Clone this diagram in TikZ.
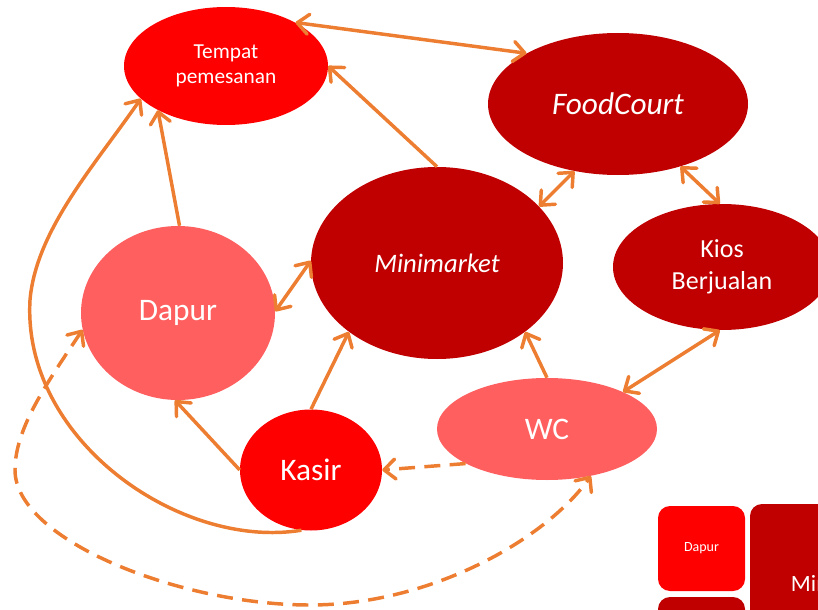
\documentclass[tikz,border=0pt]{standalone}
\usepackage{fontspec}
\setmainfont{Carlito}
\usepackage{tikz}
\usetikzlibrary{positioning}
\usetikzlibrary{shapes.geometric,arrows.meta}

\definecolor{oranye}{HTML}{ED7D31}
\definecolor{merah}{HTML}{FF0000}
\definecolor{merahtua}{HTML}{C00000}
\definecolor{merahmuda}{HTML}{FF5F5F}

\tikzset{
	ujung/.tip={Straight Barb[length=8.5pt,width=15pt,round]},
	ruang/.style={ellipse, inner sep=0pt, text=white},
	kotak/.style={rectangle, rounded corners=9pt, inner sep=0pt, text=white},
	panah/.style={draw=oranye, line width=2.6pt, -ujung},
	panahdua/.style={draw=oranye, line width=2.6pt, ujung-ujung},
	putus/.style={dash pattern=on 12pt off 7pt},
}

\begin{document}
\begin{tikzpicture}[x=0.75pt, y=-0.75pt]

	\useasboundingbox (0,0) rectangle (818,610);
	\clip (0,0) rectangle (818,610);

	% the rooms, placed at fixed coordinates
	\node[ruang, fill=merah, minimum width=153pt, minimum height=88.5pt,
		align=center, font=\fontsize{16}{19}\selectfont] (Tempat) at (226,66) {Tempat\\pemesanan};
	\node[ruang, fill=merahtua, minimum width=195pt, minimum height=106.5pt,
		font=\fontsize{23.5}{28}\selectfont\itshape] (Food) at (618,104) {FoodCourt};
	\node[ruang, fill=merahtua, minimum width=189pt, minimum height=144pt,
		font=\fontsize{20}{24}\selectfont\itshape] (Mini) at (437,263) {Minimarket};
	\node[ruang, fill=merahtua, minimum width=163.5pt, minimum height=94.5pt,
		align=center, font=\fontsize{19.5}{24}\selectfont] (Kios) at (722,267) {Kios\\Berjualan};
	\node[ruang, fill=merahmuda, minimum width=145.5pt, minimum height=130.5pt,
		font=\fontsize{23.5}{28}\selectfont] (Dapur) at (178,313) {\raisebox{-2pt}{Dapur}};
	\node[ruang, fill=merah, minimum width=106.5pt, minimum height=90.75pt,
		font=\fontsize{23.5}{28}\selectfont] (Kasir) at (311,470) {Kasir};
	\node[ruang, fill=merahmuda, minimum width=165pt, minimum height=76.5pt,
		font=\fontsize{23.5}{28}\selectfont] (WC) at (547,429) {WC};

	% tiles in the lower right corner
	\node[kotak, fill=merah, minimum width=65.25pt, minimum height=63.75pt,
		font=\fontsize{10.5}{12}\selectfont] (TDapur) at (701.5,548.5) {Dapur};
	\node[kotak, fill=merahtua, minimum width=144pt, minimum height=118.5pt,
		font=\fontsize{17.5}{21}\selectfont] (TMini) at (846,583) {Minimarket};
	\node[kotak, fill=merahtua, minimum width=65.25pt, minimum height=77.25pt] (TBawah) at (701.5,648.5) {};

	%%%%%%%%%%%%%%%%%%%%%%%%%%%%%%%%%%%%%%%%%%%%%%%%%%%%%%%%%

	% straight links
	\draw[panahdua] (Tempat.32) -- (Food.151);
	\draw[panah] (Mini.90) -- (Tempat.0);
	\draw[panah] (Dapur.89) -- (Tempat.213);
	\draw[panahdua] (Food.237) -- (Mini.29);
	\draw[panahdua] (Food.315) -- (Kios.92);
	\draw[panahdua] (Dapur.1) -- (Mini.179);
	\draw[panah] (Kasir.180) -- (Dapur.268);
	\draw[panah] (Kasir.90) -- (Mini.218);
	\draw[panah] (WC.90) -- (Mini.322);
	\draw[panahdua] (WC.26) -- (Kios.268);
	\draw[panah, putus] (WC.203) -- (Kasir.0);

	% long way round on the left
	\draw[panah] (Kasir.261) .. controls (180,550) and (22,440) .. (30,300)
		.. controls (36,230) and (95,165) .. (Tempat.201);

	% dashed loop under everything
	\draw[panahdua, putus] (Dapur.190) .. controls (44,387) and (15,430) .. (15,470)
		.. controls (15,540) and (180,605) .. (310,605)
		.. controls (430,605) and (545,540) .. (WC.313);

\end{tikzpicture}
\end{document}
